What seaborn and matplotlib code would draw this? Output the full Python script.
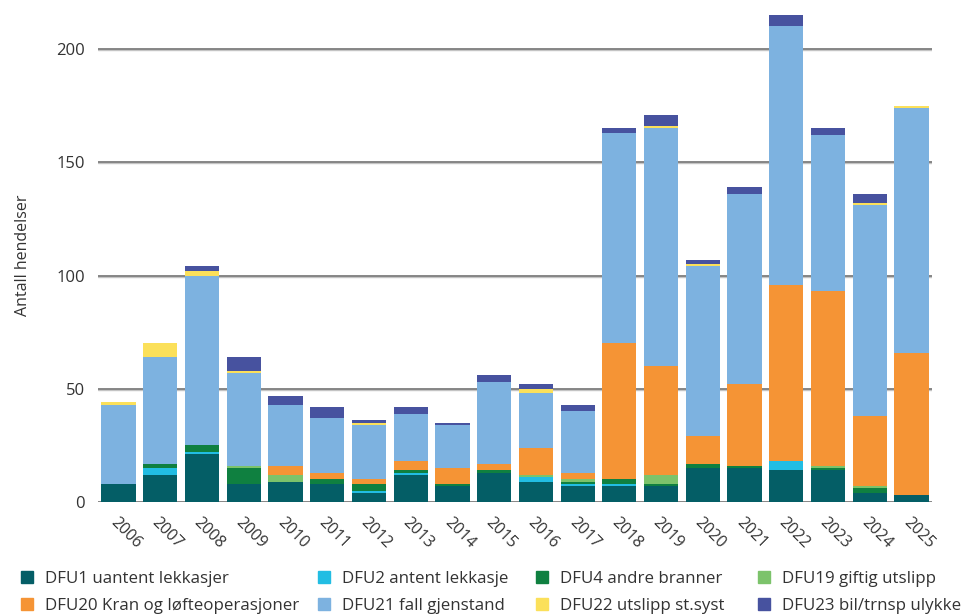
import numpy as np
import pandas as pd
import matplotlib
matplotlib.use("Agg")
import matplotlib.pyplot as plt
from matplotlib.lines import Line2D
import seaborn as sns

years = [str(y) for y in range(2006, 2026)]

dfu1 = [8, 12, 21, 8, 9, 8, 4, 12, 7, 13, 9, 7, 7, 7, 15, 15, 14, 14, 4, 3]
dfu2 = [0, 3, 1, 0, 0, 0, 1, 1, 0, 0, 2, 1, 1, 0, 0, 0, 4, 0, 0, 0]
dfu4 = [0, 2, 3, 7, 0, 2, 3, 1, 1, 1, 0, 1, 2, 1, 2, 1, 0, 1, 2, 0]
dfu19 = [0, 0, 0, 1, 3, 0, 0, 0, 0, 0, 1, 1, 0, 4, 0, 0, 0, 1, 1, 0]
dfu20 = [0, 0, 0, 0, 4, 3, 2, 4, 7, 3, 12, 3, 60, 48, 12, 36, 78, 77, 31, 63]
dfu21 = [35, 47, 75, 41, 27, 24, 24, 21, 19, 36, 24, 27, 93, 105, 75, 84, 114, 69, 93, 108]
dfu22 = [1, 6, 2, 1, 0, 0, 1, 0, 0, 0, 2, 0, 0, 1, 1, 0, 0, 0, 1, 1]
dfu23 = [0, 0, 2, 6, 4, 5, 1, 3, 1, 3, 2, 3, 2, 5, 2, 3, 5, 3, 4, 0]

series_names = [
    "DFU1 uantent lekkasjer",
    "DFU2 antent lekkasje",
    "DFU4 andre branner",
    "DFU19 giftig utslipp",
    "DFU20 Kran og løfteoperasjoner",
    "DFU21 fall gjenstand",
    "DFU22 utslipp st.syst",
    "DFU23 bil/trnsp ulykke",
]
series_values = [dfu1, dfu2, dfu4, dfu19, dfu20, dfu21, dfu22, dfu23]
colors = ["#045e66", "#22bde3", "#0f8040", "#7cc36b",
          "#f59435", "#7db2e0", "#fbe05a", "#47529f"]

text_color = "#333333"
sns.set_theme(style="white")
plt.rcParams["font.family"] = ["Open Sans", "DejaVu Sans"]

fig = plt.figure(figsize=(9.63, 6.16), dpi=100)
ax = fig.add_axes([0.1013, 0.185, 0.8670, 0.8016])

# stacked totals, drawn from the top series down so each layer covers the next
cum = np.cumsum(np.array(series_values, dtype=float), axis=0)
for i in range(len(series_names) - 1, -1, -1):
    df = pd.DataFrame({"year": years, "value": cum[i]})
    sns.barplot(data=df, x="year", y="value", color=colors[i], width=0.82,
                saturation=1, ax=ax, zorder=3, linewidth=0, edgecolor="none")

ax.set_xlim(-0.5, len(years) - 0.5)
ax.set_ylim(0, 218)
ax.set_yticks([0, 50, 100, 150, 200])
for y in [0, 50, 100, 150, 200]:
    ax.axhline(y - 0.45, color="#c4c4c4", lw=1.0, zorder=1)
    ax.axhline(y, color="#666666", lw=1.1, zorder=2)

for s in ax.spines.values():
    s.set_visible(False)

ax.set_xlabel("")
ax.set_ylabel("Antall hendelser", fontsize=11.5, color=text_color, labelpad=18)
ax.tick_params(axis="y", length=0, pad=9, labelsize=12, labelcolor=text_color)
ax.tick_params(axis="x", length=0, pad=9, labelsize=11.5, labelcolor=text_color)
plt.setp(ax.get_xticklabels(), rotation=-45, ha="left", va="top",
         rotation_mode="anchor")

# legend: four columns, two entries each
col_x = [0.0218, 0.3302, 0.5566, 0.7871]
for c in range(4):
    idx = [c, c + 4]
    hs = [Line2D([], [], linestyle="none", marker="s", markersize=9,
                 markerfacecolor=colors[k], markeredgecolor=colors[k]) for k in idx]
    fig.legend(hs, [series_names[k] for k in idx],
               loc="upper left", bbox_to_anchor=(col_x[c], 0.073), ncol=1,
               frameon=False, fontsize=12.2, handlelength=0.74,
               handletextpad=0.7, labelspacing=0.62, borderpad=0,
               borderaxespad=0, labelcolor=text_color)

fig.savefig("out.png", dpi=100)
